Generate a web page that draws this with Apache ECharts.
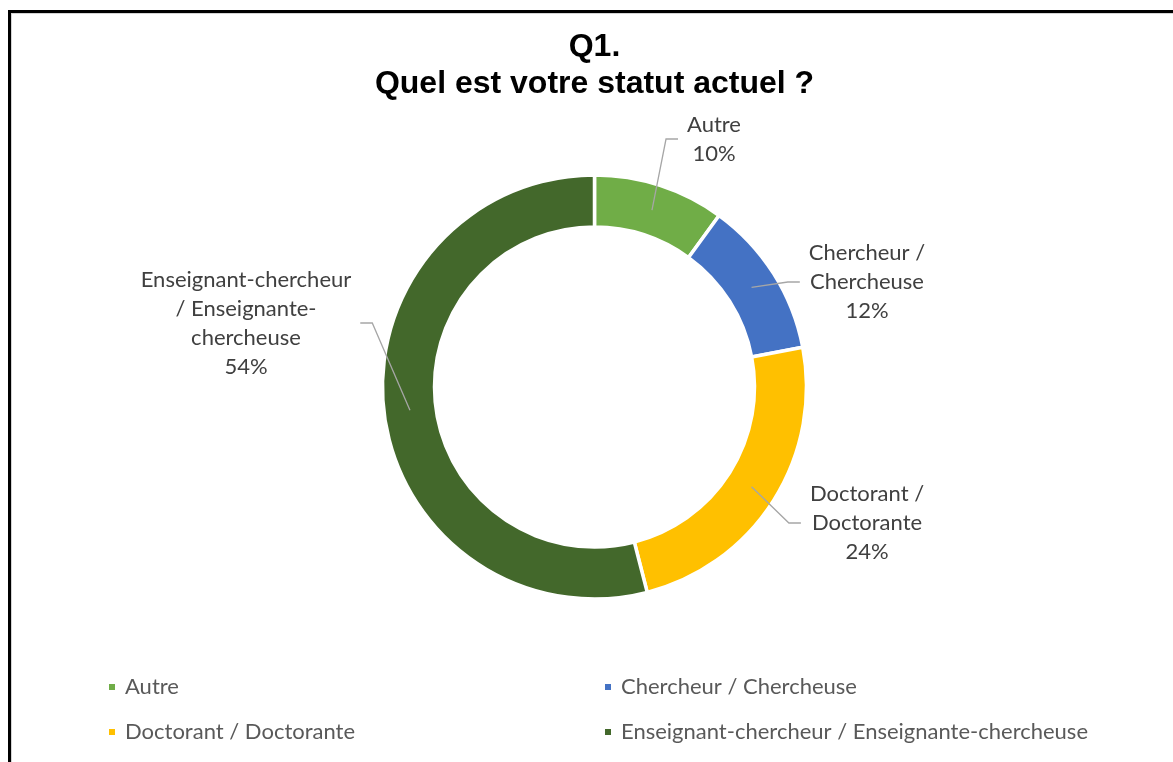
<!DOCTYPE html>
<html>
<head>
<meta charset="utf-8">
<title>Q1. Quel est votre statut actuel ?</title>
<script src="https://cdn.jsdelivr.net/npm/echarts@6/dist/echarts.min.js"></script>
<style>
  html, body { margin: 0; padding: 0; background: #fff; overflow: hidden; }
  body { width: 1173px; height: 762px; position: relative; }
  #chart { position: absolute; left: 8px; top: 10px; width: 1173px; height: 754px; }
  #frame {
    position: absolute; left: 8px; top: 10px; width: 2000px; height: 2000px;
    border-left: 3px solid #000; border-top: 3px solid #000;
    box-shadow: inset 1px 1px 0 #d4d4d4;
    pointer-events: none;
  }
</style>
</head>
<body>
<div id="chart"></div>
<div id="frame"></div>
<script>
// catégories et pourcentages
const categories = [
  "Autre",
  "Chercheur / Chercheuse",
  "Doctorant / Doctorante",
  "Enseignant-chercheur / Enseignante-chercheuse",
];
const shares = [10, 12, 24, 54];
// libellés coupés comme dans Excel
const wrappedNames = [
  "Autre",
  "Chercheur /\nChercheuse",
  "Doctorant /\nDoctorante",
  "Enseignant-chercheur\n/ Enseignante-\nchercheuse",
];
const colors = ["#70AD47", "#4472C4", "#FFC000", "#43682B"];

const chart = echarts.init(document.getElementById("chart"));

// centre des étiquettes (px, repère du graphique)
const labelSpots = [
  [706, 129],
  [859, 272],
  [859, 513],
  [238, 313],
];

const pieData = categories.map((name, i) => ({
  name: name,
  value: shares[i],
  itemStyle: { color: colors[i] },
}));

const bodyFont = "Lato, 'Open Sans', sans-serif";

chart.setOption({
  animation: false,
  title: {
    text: "Q1.\nQuel est votre statut actuel ?",
    left: "center",
    top: 19,
    padding: 0,
    textStyle: {
      fontFamily: "'Liberation Sans', Arial, sans-serif",
      fontSize: 32,
      fontWeight: "bold",
      color: "#000",
      lineHeight: 37,
    },
  },
  legend: [
    {
      orient: "vertical",
      left: 99,
      top: 665,
      padding: 0,
      itemWidth: 8,
      itemHeight: 8,
      itemGap: 21,
      icon: "rect",
      selectedMode: false,
      data: [categories[0], categories[2]],
      textStyle: { fontFamily: bodyFont, fontSize: 22, color: "#595959", lineHeight: 24, padding: [0, 0, 0, 4] },
    },
    {
      orient: "vertical",
      left: 595,
      top: 665,
      padding: 0,
      itemWidth: 8,
      itemHeight: 8,
      itemGap: 21,
      icon: "rect",
      selectedMode: false,
      data: [categories[1], categories[3]],
      textStyle: { fontFamily: bodyFont, fontSize: 22, color: "#595959", lineHeight: 24, padding: [0, 0, 0, 4] },
    },
  ],
  series: [
    {
      // anneau visible
      type: "pie",
      radius: [160, 212],
      center: ["50%", "50%"],
      startAngle: 90,
      silent: true,
      data: pieData,
      itemStyle: { borderColor: "#fff", borderWidth: 3.5 },
      label: { show: false },
      labelLine: { show: false },
    },
    {
      // série transparente qui porte les étiquettes (départ du trait au milieu de l'anneau)
      type: "pie",
      z: 5,
      radius: [0, 186],
      center: ["50%", "50%"],
      startAngle: 90,
      silent: true,
      avoidLabelOverlap: false,
      data: pieData.map((d) => ({ name: d.name, value: d.value })),
      itemStyle: { color: "rgba(0,0,0,0)", borderWidth: 0 },
      label: {
        show: true,
        position: "outside",
        fontFamily: bodyFont,
        fontSize: 22,
        lineHeight: 29,
        color: "#404040",
        formatter: (p) => wrappedNames[p.dataIndex] + "\n" + p.value + "%",
      },
      labelLine: {
        show: true,
        length: 20,
        length2: 10,
        lineStyle: { color: "#A6A6A6", width: 1.3 },
      },
      labelLayout: function (params) {
        const spot = labelSpots[params.dataIndex];
        const w = params.labelRect.width;
        const a = params.labelLinePoints ? params.labelLinePoints[0] : spot;
        const toLeft = a[0] < spot[0];
        const edge = toLeft ? spot[0] - w / 2 - 9 : spot[0] + w / 2 + 9;
        const bend = toLeft ? edge - 12 : edge + 12;
        return {
          x: spot[0],
          y: spot[1],
          align: "center",
          verticalAlign: "middle",
          labelLinePoints: [a, [bend, spot[1]], [edge, spot[1]]],
        };
      },
    },
  ],
});
</script>
</body>
</html>
